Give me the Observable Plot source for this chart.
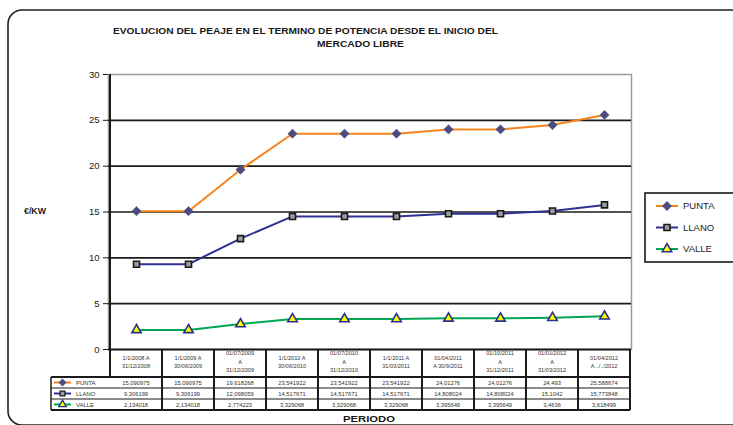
<!DOCTYPE html>
<html><head><meta charset="utf-8">
<script src="https://cdn.jsdelivr.net/npm/d3@7"></script>
<script src="https://cdn.jsdelivr.net/npm/@observablehq/plot@0.6"></script>
<style>html,body{margin:0;padding:0;background:#fff;overflow:hidden} svg{display:block;overflow:hidden}</style>
</head><body><div id="chart"></div>
<script>
const periods = [
  "1/1/2008 A\n31/12/2008",
  "1/1/2009 A\n30/06/2009",
  "01/07/2009\nA\n31/12/2009",
  "1/1/2010 A\n30/06/2010",
  "01/07/2010\nA\n31/12/2010",
  "1/1/2011 A\n31/03/2011",
  "01/04/2011\nA 30/9/2011",
  "01/10/2011\nA\n31/12/2011",
  "01/01/2012\nA\n31/03/2012",
  "01/04/2012\nA ../../2012"
];
const punta = [15.090975, 15.090975, 19.618268, 23.541922, 23.541922, 23.541922, 24.01276, 24.01276, 24.493, 25.588674];
const llano = [9.306199, 9.306199, 12.098059, 14.517671, 14.517671, 14.517671, 14.808024, 14.808024, 15.1042, 15.773848];
const valle = [2.134018, 2.134018, 2.774223, 3.329068, 3.329068, 3.329068, 3.395649, 3.395649, 3.4636, 3.618499];
const seriesNames = ["PUNTA", "LLANO", "VALLE"];
const seriesValues = [punta, llano, valle];
const lineColors = ["#f5841f", "#2e3192", "#00a651"];
const yTicks = [0, 5, 10, 15, 20, 25, 30];
const gridValues = [5, 10, 15, 20, 25];
const titleLines = ["EVOLUCION DEL PEAJE EN EL TERMINO DE POTENCIA DESDE EL INICIO DEL", "MERCADO LIBRE"];
const yLabel = "€/KW";
const xLabel = "PERIODO";

const rows = [];
seriesNames.forEach((s, i) => periods.forEach((p, j) => rows.push({serie: s, period: p, value: seriesValues[i][j]})));
const bySerie = s => rows.filter(d => d.serie === s);

const markerStyle = {
  PUNTA: {symbol: "diamond2", r: 4.2, fill: "#4d4c80", stroke: "#4d4c80", strokeWidth: 0.5},
  LLANO: {symbol: "square", r: 3.4, fill: "#9d9d9d", stroke: "#1a1a1a", strokeWidth: 1.6},
  VALLE: {symbol: "triangle", r: 3.5, fill: "#ffff00", stroke: "#26308f", strokeWidth: 1.6}
};

const FONT = "'Liberation Sans', Arial, sans-serif";
const plot = Plot.plot({
  width: 733, height: 425,
  marginLeft: 108, marginRight: 102, marginTop: 74, marginBottom: 76,
  style: {fontFamily: FONT, background: "white", color: "#1a1a1a"},
  x: {type: "point", domain: periods, padding: 0.5, axis: null},
  y: {domain: [0, 30], ticks: yTicks, tickSize: 5, tickPadding: 4, label: null, fontSize: 9},
  color: {domain: seriesNames, range: lineColors},
  marks: [
    Plot.frame({stroke: "#9a9a9a", strokeWidth: 1.5}),
    Plot.ruleY(gridValues, {stroke: "#1a1a1a", strokeWidth: 1.6}),
    Plot.ruleY([0], {stroke: "#1a1a1a", strokeWidth: 2}),
    Plot.line(rows, {x: "period", y: "value", z: "serie", stroke: "serie", strokeWidth: 2}),
    ...seriesNames.map(s => Plot.dot(bySerie(s), {x: "period", y: "value", ...markerStyle[s]}))
  ]
});
plot.querySelectorAll("g[aria-label='y-axis tick label'] text, g[aria-label='y-axis'] text").forEach(t => t.setAttribute("font-size", 9.5));
document.getElementById("chart").appendChild(plot);

const svg = d3.select(plot);
const xs = plot.scale("x"), ys = plot.scale("y");
const cx = p => xs.apply(p);
const step = cx(periods[1]) - cx(periods[0]);
const left = cx(periods[0]) - step / 2;
const right = cx(periods[periods.length - 1]) + step / 2;
const y0 = ys.apply(0), yTop = ys.apply(30);
const headBottom = y0 + 28, rowH = 11;
const legendColLeft = 51;
const tableBottom = headBottom + rowH * seriesNames.length;

const g = svg.append("g").attr("font-family", FONT).attr("text-anchor", "start");

// outer rounded border
g.append("rect").attr("x", 8).attr("y", 10).attr("width", 745).attr("height", 415)
  .attr("rx", 14).attr("fill", "none").attr("stroke", "#222").attr("stroke-width", 1.6);

// y axis line
g.append("line").attr("x1", left).attr("x2", left).attr("y1", yTop).attr("y2", headBottom)
  .attr("stroke", "#1a1a1a").attr("stroke-width", 2);

// table grid
const grid = g.append("g").attr("stroke", "#1a1a1a");
periods.forEach((p, i) => {
  const xr = cx(p) + step / 2;
  grid.append("line").attr("x1", xr).attr("x2", xr).attr("y1", y0).attr("y2", tableBottom).attr("stroke-width", 2);
});
grid.append("line").attr("x1", legendColLeft).attr("x2", legendColLeft).attr("y1", headBottom).attr("y2", tableBottom).attr("stroke-width", 1.5);
for (let k = 0; k <= seriesNames.length; k++) {
  const yy = headBottom + k * rowH;
  grid.append("line").attr("x1", legendColLeft).attr("x2", right).attr("y1", yy).attr("y2", yy).attr("stroke-width", k === 0 || k === seriesNames.length ? 1.8 : 1.2);
}

// header labels
periods.forEach(p => {
  const lines = p.split("\n");
  const lh = 8.5, mid = y0 + 13;
  lines.forEach((ln, k) => {
    g.append("text").attr("x", cx(p)).attr("y", mid + (k - (lines.length - 1) / 2) * lh)
      .attr("dy", "0.35em").attr("text-anchor", "middle").attr("font-size", 5.6).attr("fill", "#333").text(ln);
  });
});

// values
seriesNames.forEach((s, i) => {
  const yc = headBottom + i * rowH + rowH / 2;
  seriesValues[i].forEach((v, j) => {
    g.append("text").attr("x", cx(periods[j])).attr("y", yc).attr("dy", "0.35em")
      .attr("text-anchor", "middle").attr("font-size", 5.8).attr("fill", "#333")
      .text(String(v).replace(".", ","));
  });
});

// marker drawing helper
const symMap = {diamond2: d3.symbolDiamond2, square: d3.symbolSquare, triangle: d3.symbolTriangle};
function legendKey(parent, s, i, x1, x2, yc, scale) {
  parent.append("line").attr("x1", x1).attr("x2", x2).attr("y1", yc).attr("y2", yc)
    .attr("stroke", lineColors[i]).attr("stroke-width", 2);
  const m = markerStyle[s];
  const r = m.r * scale;
  parent.append("path").attr("d", d3.symbol(symMap[m.symbol], Math.PI * r * r)())
    .attr("transform", `translate(${(x1 + x2) / 2},${yc})`)
    .attr("fill", m.fill).attr("stroke", m.stroke).attr("stroke-width", m.strokeWidth * scale);
}

// table row labels
seriesNames.forEach((s, i) => {
  const yc = headBottom + i * rowH + rowH / 2;
  legendKey(g, s, i, 54, 71, yc, 0.8);
  g.append("text").attr("x", 76).attr("y", yc).attr("dy", "0.35em").attr("text-anchor", "start")
    .attr("font-size", 5.9).attr("fill", "#333").text(s);
});

// legend box
g.append("rect").attr("x", 645).attr("y", 193).attr("width", 110).attr("height", 69)
  .attr("fill", "white").attr("stroke", "#1a1a1a").attr("stroke-width", 1.6);
seriesNames.forEach((s, i) => {
  const yc = 206 + i * 21.5;
  legendKey(g, s, i, 656, 678, yc, 1);
  g.append("text").attr("x", 683).attr("y", yc).attr("dy", "0.35em").attr("text-anchor", "start")
    .attr("font-size", 9.5).attr("fill", "#222").text(s);
});

// titles
const bold = (x, y, size, len, str) => g.append("text").attr("x", x).attr("y", y).attr("text-anchor", "start")
  .attr("font-size", size).attr("font-weight", "bold").attr("textLength", len)
  .attr("lengthAdjust", "spacingAndGlyphs").attr("fill", "#1a1a1a").text(str);
bold(113, 34, 8.4, 385, titleLines[0]);
bold(317, 46.5, 8.4, 87, titleLines[1]);
bold(24, 214, 8.5, 22, yLabel);
bold(343, 421.5, 8.4, 52, xLabel);
</script>
</body></html>
